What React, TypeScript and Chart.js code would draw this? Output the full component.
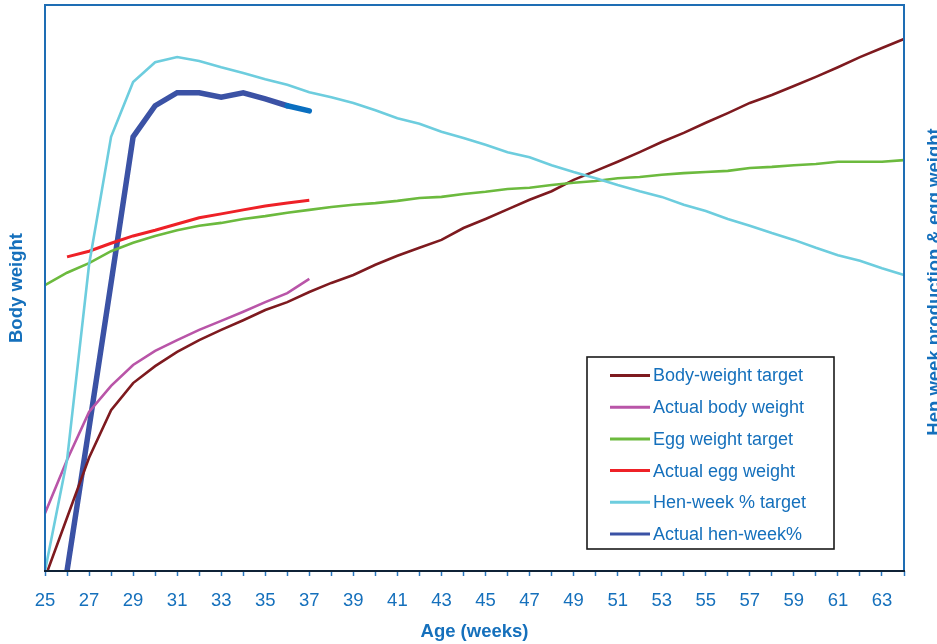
import React, { useEffect, useRef } from "react";
import { Chart, registerables } from "chart.js";

Chart.register(...registerables);

// ---- Data (both axes are unlabelled, values in % of axis range) ----
const weeks = [
  25, 26, 27, 28, 29, 30, 31, 32, 33, 34, 35, 36, 37, 38, 39, 40, 41, 42, 43, 44,
  45, 46, 47, 48, 49, 50, 51, 52, 53, 54, 55, 56, 57, 58, 59, 60, 61, 62, 63, 64,
];
const xTickLabels = [25, 27, 29, 31, 33, 35, 37, 39, 41, 43, 45, 47, 49, 51, 53, 55, 57, 59, 61, 63];

// left axis (body weight), starting week 25
const bodyWeightTarget = [
  -1.2, 9.4, 20.0, 28.4, 33.2, 36.2, 38.7, 40.8, 42.6, 44.3, 46.1, 47.5, 49.3, 50.9, 52.3,
  54.1, 55.7, 57.1, 58.5, 60.6, 62.2, 63.9, 65.6, 67.1, 69.1, 70.7, 72.3, 74.0, 75.8, 77.4,
  79.2, 80.9, 82.7, 84.1, 85.7, 87.3, 89.0, 90.8, 92.4, 94.0,
];
// starting week 25
const actualBodyWeight = [10.2, 19.6, 28.1, 32.7, 36.4, 38.9, 40.8, 42.6, 44.2, 45.8, 47.5, 49.1, 51.6];

// right axis (hen-week production & egg weight), starting week 25
const eggWeightTarget = [
  50.5, 52.7, 54.4, 56.5, 58.0, 59.2, 60.2, 61.0, 61.5, 62.2, 62.7, 63.3, 63.8, 64.3, 64.7,
  65.0, 65.4, 65.9, 66.1, 66.6, 67.0, 67.5, 67.7, 68.2, 68.6, 68.9, 69.4, 69.6, 70.0, 70.3,
  70.5, 70.7, 71.2, 71.4, 71.7, 71.9, 72.3, 72.3, 72.3, 72.6,
];
// starting week 26
const actualEggWeight = [55.5, 56.5, 57.9, 59.2, 60.2, 61.3, 62.4, 63.1, 63.8, 64.5, 65.0, 65.5];
// starting week 25
const henWeekTarget = [
  0, 19.6, 54.1, 76.7, 86.4, 89.9, 90.8, 90.1, 89.0, 88.0, 86.9, 85.9, 84.6, 83.7, 82.7,
  81.4, 80.0, 79.0, 77.6, 76.5, 75.3, 74.0, 73.1, 71.7, 70.5, 69.4, 68.2, 67.1, 66.1, 64.7,
  63.6, 62.2, 61.0, 59.7, 58.5, 57.1, 55.8, 54.8, 53.5, 52.3,
];
// starting week 26
const actualHenWeek = [0, 25.3, 50.9, 76.7, 82.2, 84.5, 84.5, 83.7, 84.5, 83.4, 82.2, 81.3];

const seriesLabels = [
  "Body-weight target",
  "Actual body weight",
  "Egg weight target",
  "Actual egg weight",
  "Hen-week % target",
  "Actual hen-week%",
];
const seriesColors = ["#7E1A1F", "#B955A8", "#6CBA3E", "#EE2127", "#6DCDDE", "#3B52A5"];

const FONT = "'Liberation Sans', Arial, sans-serif";
const BLUE_TEXT = "#1570BC";

function fromWeek(start: number, values: number[]) {
  const out: (number | null)[] = weeks.map(() => null);
  const offset = weeks.indexOf(start);
  values.forEach((v, i) => {
    out[offset + i] = v;
  });
  return out;
}

const decorPlugin = {
  id: "decor",
  afterDraw(chart: any) {
    const ctx = chart.ctx as CanvasRenderingContext2D;
    const ca = chart.chartArea;
    ctx.save();
    // frame
    ctx.lineWidth = 2;
    ctx.strokeStyle = "#1E6DB4";
    ctx.beginPath();
    ctx.moveTo(ca.left, ca.bottom);
    ctx.lineTo(ca.left, ca.top);
    ctx.lineTo(ca.right, ca.top);
    ctx.lineTo(ca.right, ca.bottom);
    ctx.stroke();
    ctx.strokeStyle = "#0F2236";
    ctx.beginPath();
    ctx.moveTo(ca.left - 1, ca.bottom);
    ctx.lineTo(ca.right + 1, ca.bottom);
    ctx.stroke();

    // legend box
    const lx = ca.right - 317;
    const ly = ca.bottom - 214;
    const lw = 247;
    const lh = 192;
    ctx.fillStyle = "#FFFFFF";
    ctx.fillRect(lx, ly, lw, lh);
    ctx.lineWidth = 1.6;
    ctx.strokeStyle = "#1A1A1A";
    ctx.strokeRect(lx, ly, lw, lh);
    ctx.font = `18px ${FONT}`;
    ctx.textAlign = "left";
    ctx.textBaseline = "middle";
    seriesLabels.forEach((label, i) => {
      const cy = ly + 18.5 + i * 31.7;
      ctx.strokeStyle = seriesColors[i];
      ctx.lineWidth = 3;
      ctx.beginPath();
      ctx.moveTo(lx + 23, cy);
      ctx.lineTo(lx + 63, cy);
      ctx.stroke();
      ctx.fillStyle = BLUE_TEXT;
      ctx.fillText(label, lx + 66, cy + 1);
    });

    // right axis title (reads bottom-to-top, partly cut by the edge)
    ctx.translate(939.5, 282);
    ctx.rotate(-Math.PI / 2);
    ctx.font = `bold 18.5px ${FONT}`;
    ctx.textAlign = "center";
    ctx.textBaseline = "alphabetic";
    ctx.fillStyle = BLUE_TEXT;
    ctx.fillText("Hen week production & egg weight", 0, 0);
    ctx.restore();
  },
};

export default function App() {
  const ref = useRef<HTMLCanvasElement | null>(null);

  useEffect(() => {
    if (!ref.current) return;
    const base = { pointRadius: 0, pointHoverRadius: 0, tension: 0, fill: false, spanGaps: false };
    const chart = new Chart(ref.current, {
      type: "line",
      data: {
        labels: weeks,
        datasets: [
          { ...base, label: seriesLabels[4], data: henWeekTarget, borderColor: seriesColors[4], borderWidth: 2.6, yAxisID: "yR" },
          { ...base, label: seriesLabels[2], data: eggWeightTarget, borderColor: seriesColors[2], borderWidth: 2.6, yAxisID: "yR" },
          { ...base, label: seriesLabels[0], data: bodyWeightTarget, borderColor: seriesColors[0], borderWidth: 2.6, yAxisID: "yL" },
          { ...base, label: seriesLabels[1], data: fromWeek(25, actualBodyWeight), borderColor: seriesColors[1], borderWidth: 2.6, yAxisID: "yL" },
          { ...base, label: seriesLabels[3], data: fromWeek(26, actualEggWeight), borderColor: seriesColors[3], borderWidth: 3, yAxisID: "yR" },
          {
            ...base,
            label: seriesLabels[5],
            data: fromWeek(26, actualHenWeek),
            borderColor: seriesColors[5],
            borderWidth: 5.5,
            borderCapStyle: "round",
            yAxisID: "yR",
            segment: {
              borderColor: (c: any) => (c.p0DataIndex >= weeks.indexOf(36) ? "#0A6FC0" : undefined),
            },
          },
        ],
      },
      options: {
        animation: false,
        responsive: false,
        maintainAspectRatio: false,
        events: [],
        layout: { padding: { top: 5, left: 0, right: 0, bottom: 0 } },
        plugins: { legend: { display: false }, tooltip: { enabled: false }, title: { display: false } },
        scales: {
          x: {
            type: "category",
            offset: false,
            border: { display: false },
            grid: {
              display: true,
              drawOnChartArea: false,
              drawTicks: true,
              tickLength: 5,
              tickWidth: 1.5,
              tickColor: "#2A78C2",
            },
            ticks: {
              autoSkip: false,
              maxRotation: 0,
              padding: 14,
              color: BLUE_TEXT,
              font: { family: FONT, size: 18.5 },
              callback: (_v: any, i: number) => (xTickLabels.includes(weeks[i]) ? String(weeks[i]) : ""),
            },
            title: {
              display: true,
              text: "Age (weeks)",
              color: BLUE_TEXT,
              font: { family: FONT, size: 18.5, weight: "bold" },
              padding: { top: 0, bottom: 1 },
            },
            afterFit: (s: any) => {
              s.height = 73;
            },
          },
          yL: {
            type: "linear",
            position: "left",
            min: 0,
            max: 100,
            border: { display: false },
            grid: { display: false },
            ticks: { display: false },
            title: {
              display: true,
              text: "Body weight",
              color: BLUE_TEXT,
              font: { family: FONT, size: 18.5, weight: "bold" },
              padding: { top: 6, bottom: 0 },
            },
            afterFit: (s: any) => {
              s.width = 45;
            },
          },
          yR: {
            type: "linear",
            position: "right",
            min: 0,
            max: 100,
            border: { display: false },
            grid: { display: false },
            ticks: { display: false },
            afterFit: (s: any) => {
              s.width = 33;
            },
          },
        },
      } as any,
      plugins: [decorPlugin],
    });
    return () => chart.destroy();
  }, []);

  return (
    <div style={{ position: "fixed", left: 0, top: 0, width: 937, height: 644, background: "#fff" }}>
      <canvas ref={ref} width={937} height={644} style={{ width: 937, height: 644, display: "block" }} />
    </div>
  );
}
